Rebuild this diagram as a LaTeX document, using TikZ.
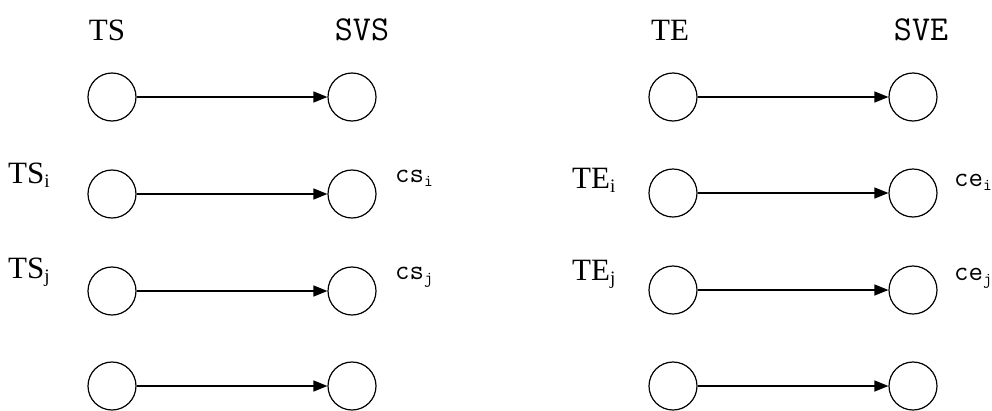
\documentclass[tikz,border=0pt]{standalone}
\usepackage{fontspec}
\setmainfont{Liberation Serif}
\usetikzlibrary{arrows.meta}
\newcommand{\serbig}{\fontsize{31}{31}\selectfont}
\newcommand{\monobig}{\ttfamily\fontsize{35}{35}\selectfont}
\newcommand{\monosmall}{\ttfamily\fontsize{28}{28}\selectfont}
\newcommand{\subser}[1]{\raisebox{-4pt}{\fontsize{19}{19}\selectfont #1}}
\newcommand{\submono}[1]{\raisebox{-4pt}{\ttfamily\fontsize{17}{17}\selectfont #1}}
\begin{document}
\begin{tikzpicture}[x=1pt,y=-1pt,
  circ/.style={circle,draw,minimum size=48pt,inner sep=0pt,line width=1.2pt},
  arr/.style={-{Triangle[length=14pt,width=11pt]},line width=1.4pt},
  lab/.style={inner sep=0pt,anchor=base west}]
\useasboundingbox (0,0) rectangle (992,410);
% left group
\node[circ] (a1) at (112,97) {};
\node[circ] (b1) at (352,97) {};
\node[circ] (a2) at (112,194) {};
\node[circ] (b2) at (352,194) {};
\node[circ] (a3) at (112,291) {};
\node[circ] (b3) at (352,291) {};
\node[circ] (a4) at (112,386) {};
\node[circ] (b4) at (352,386) {};
% right group
\node[circ] (c1) at (673,97) {};
\node[circ] (d1) at (913,97) {};
\node[circ] (c2) at (673,193) {};
\node[circ] (d2) at (913,193) {};
\node[circ] (c3) at (673,290) {};
\node[circ] (d3) at (913,290) {};
\node[circ] (c4) at (673,386) {};
\node[circ] (d4) at (913,386) {};
\foreach \i in {1,2,3,4}{
  \draw[arr] (a\i) -- (b\i);
  \draw[arr] (c\i) -- (d\i);
}
% headings
\node[inner sep=0pt,anchor=base] (hts) at (107,40) {\serbig TS};
\node[inner sep=0pt,anchor=base] (hsvs) at (362,40) {\monobig SVS};
\node[inner sep=0pt,anchor=base] (hte) at (670,40) {\serbig TE};
\node[inner sep=0pt,anchor=base] (hsve) at (921,40) {\monobig SVE};
% side labels
\node[lab] (tsi) at (8,183) {\serbig TS\subser{i}};
\node[lab] (tsj) at (8,278) {\serbig TS\subser{j}};
\node[lab] (tei) at (572,188) {\serbig TE\subser{i}};
\node[lab] (tej) at (572,280) {\serbig TE\subser{j}};
\node[lab] (csi) at (395,182) {\monosmall cs\submono{i}};
\node[lab] (csj) at (395,279) {\monosmall cs\submono{j}};
\node[lab] (cei) at (954,186) {\monosmall ce\submono{i}};
\node[lab] (cej) at (954,280) {\monosmall ce\submono{j}};
\end{tikzpicture}
\end{document}
